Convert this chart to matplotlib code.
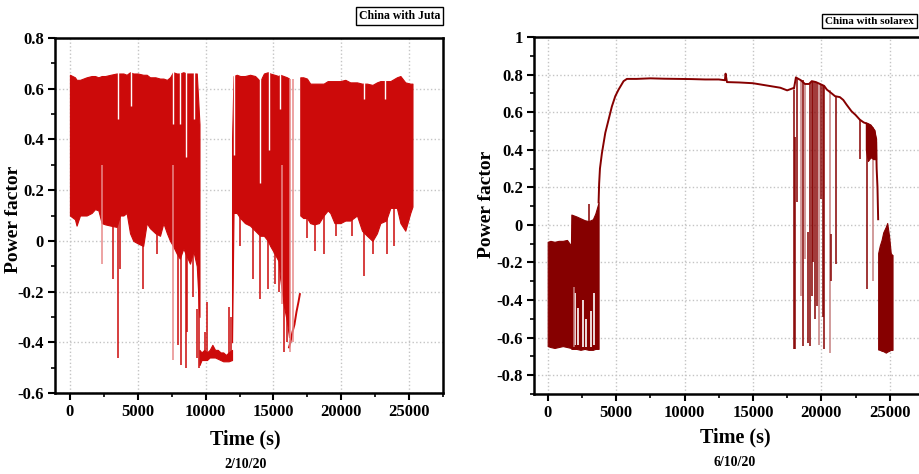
import matplotlib
matplotlib.use('Agg')
import matplotlib.pyplot as plt
from matplotlib.ticker import MultipleLocator

plt.rcParams['font.family'] = ['Liberation Serif', 'DejaVu Serif']
plt.rcParams['font.weight'] = 'bold'
plt.rcParams['axes.unicode_minus'] = False

# ---------------- Left panel: China with Juta (2/10/20) ----------------
# dense oscillation band 1
j1_t = [0, 370, 490, 740, 1230, 1600, 1850, 2100, 2340, 2600, 3000, 3440, 3690, 3940, 4180,
        4430, 4670, 5000, 5400, 5660, 5900, 6300, 6640, 6890, 7150, 7380, 7600, 7870, 8100,
        8360, 8600, 8850, 9100, 9350, 9550]
j1_hi = [0.655, 0.645, 0.635, 0.635, 0.645, 0.65, 0.65, 0.645, 0.65, 0.65, 0.655, 0.66, 0.66,
         0.66, 0.655, 0.665, 0.66, 0.66, 0.655, 0.655, 0.645, 0.645, 0.64, 0.64, 0.635, 0.645,
         0.665, 0.66, 0.66, 0.665, 0.66, 0.66, 0.66, 0.66, 0.46]
j1_lo = [0.10, 0.085, 0.06, 0.10, 0.10, 0.11, 0.125, 0.12, 0.07, 0.065, 0.06, 0.055, 0.10, 0.10,
         0.11, 0.03, 0.0, -0.01, -0.02, 0.07, 0.05, 0.03, 0.02, 0.07, 0.03, 0.0, -0.02, -0.05,
         -0.07, -0.03, -0.06, -0.09, -0.04, -0.10, -0.30]
# low plateau
j2_t = [9550, 9700, 9900, 10100, 10300, 10500, 10700, 10900, 11100, 11300, 11500, 11700, 11950]
j2_hi = [-0.43, -0.44, -0.43, -0.44, -0.43, -0.41, -0.43, -0.43, -0.44, -0.44, -0.45, -0.44, -0.43]
j2_lo = [-0.49, -0.47, -0.47, -0.47, -0.46, -0.46, -0.46, -0.465, -0.47, -0.475, -0.475, -0.475, -0.47]
# dense band 2
j3_t = [11950, 12060, 12300, 12550, 12900, 13280, 13650, 14020, 14300, 14590, 14760, 15080,
        15380, 15500, 15750, 16000, 16150]
j3_hi = [0.40, 0.65, 0.655, 0.65, 0.65, 0.655, 0.65, 0.63, 0.66, 0.665, 0.66, 0.655, 0.65,
         0.655, 0.65, 0.645, 0.64]
j3_lo = [-0.40, 0.11, 0.11, 0.09, 0.07, 0.06, 0.04, 0.02, 0.02, 0.0, -0.02, -0.05, -0.08,
         -0.15, -0.25, -0.32, -0.38]
# recovery line
j4_t = [16150, 16250, 16400, 16550, 16700, 16850, 16950]
j4_pf = [-0.42, -0.40, -0.36, -0.33, -0.28, -0.24, -0.21]
# dense band 3
j5_t = [16980, 17200, 17470, 17710, 18000, 18350, 18700, 19000, 19190, 19500, 19930, 20300,
        20660, 21160, 21530, 21900, 22300, 22630, 22880, 23300, 23620, 24100, 24360, 24720,
        25090, 25250]
j5_hi = [0.645, 0.645, 0.64, 0.62, 0.62, 0.62, 0.62, 0.63, 0.63, 0.63, 0.63, 0.635, 0.625,
         0.625, 0.62, 0.62, 0.615, 0.625, 0.63, 0.63, 0.63, 0.645, 0.65, 0.625, 0.62, 0.62]
j5_lo = [0.10, 0.09, 0.09, 0.07, 0.065, 0.07, 0.10, 0.12, 0.11, 0.07, 0.07, 0.08, 0.08, 0.10,
         0.04, 0.02, 0.0, 0.03, 0.07, 0.08, 0.13, 0.13, 0.07, 0.04, 0.11, 0.135]
# downward spikes (dark)
jsp_t = [3200, 3570, 3690, 5360, 6400, 8000, 8170, 8560, 8660, 9100, 9500, 12550, 13530,
         14020, 14590, 15080, 15380, 15750, 16000, 17470, 18030, 18700, 19600, 20790, 21700,
         22340, 23370, 23860]
jsp_bot = [-0.15, -0.46, -0.11, -0.19, -0.05, -0.41, -0.49, -0.50, -0.36, -0.22, -0.50, -0.02,
           -0.15, -0.23, -0.19, -0.17, -0.20, -0.44, -0.40, 0.01, -0.04, -0.05, 0.02, 0.02,
           -0.14, -0.05, -0.05, -0.02]
jsp_top = 0.3
# faint spikes
jl_t = [2340, 7580, 15630, 16240, 16420]
jl_lo = [-0.09, -0.47, -0.25, -0.44, -0.40]
jl_hi = [0.30, 0.30, 0.30, 0.64, 0.64]
# upward spikes from low plateau
ju_t = [9400, 9960, 10090, 11700, 11870]
ju_top = [-0.27, -0.36, -0.24, -0.26, -0.30]
ju_bot = -0.46
# white gaps in dense bands
jw_t = [3520, 4530, 7630, 8120, 8560, 9150, 12100, 14020, 14640, 15460, 21650, 23220]
jw_top = [0.67, 0.67, 0.67, 0.67, 0.67, 0.67, 0.67, 0.67, 0.67, 0.67, 0.65, 0.65]
jw_bot = [0.48, 0.53, 0.46, 0.46, 0.33, 0.48, 0.34, 0.23, 0.36, 0.52, 0.56, 0.56]

# ---------------- Right panel: China with solarex (6/10/20) ----------------
sa_t = [0, 200, 500, 800, 1100, 1410, 1700, 1730, 2100, 2400, 2700, 2990, 3300, 3480, 3720]
sa_hi = [-0.09, -0.085, -0.09, -0.085, -0.085, -0.08, -0.11, 0.055, 0.045, 0.035, 0.025, 0.02,
         0.03, 0.06, 0.12]
sa_lo = [-0.645, -0.65, -0.655, -0.65, -0.645, -0.65, -0.655, -0.66, -0.66, -0.665, -0.66,
         -0.665, -0.665, -0.66, -0.66]
sm_t = [3720, 3760, 3820, 3960, 4210, 4450, 4690, 4940, 5180, 5545, 5790, 6500, 7500, 8500,
        9500, 10500, 11500, 12500, 12950, 13000, 13100, 14000, 15000, 16000, 17000, 17500,
        17950, 17995, 18140, 18250, 18500, 18800, 19100, 19300, 19600, 19900, 20200, 20400,
        20750, 21000, 21350, 21600, 21840, 22200, 22500, 22810, 23100, 23300, 23600, 23900,
        24000, 24040, 24100, 24150]
sm_pf = [0.12, 0.22, 0.30, 0.38, 0.49, 0.56, 0.63, 0.685, 0.72, 0.765, 0.777, 0.777, 0.78,
         0.778, 0.777, 0.776, 0.774, 0.774, 0.77, 0.805, 0.76, 0.758, 0.754, 0.742, 0.73, 0.716,
         0.728, 0.725, 0.785, 0.78, 0.77, 0.75, 0.75, 0.765, 0.76, 0.75, 0.74, 0.72, 0.70,
         0.685, 0.68, 0.665, 0.64, 0.605, 0.585, 0.56, 0.545, 0.54, 0.53, 0.50, 0.44, 0.30,
         0.20, 0.03]
sb_t = [23250, 23400, 23600, 23800, 24000]
sb_hi = [0.545, 0.54, 0.53, 0.51, 0.46]
sb_lo = [0.40, 0.34, 0.36, 0.35, 0.35]
sc_t = [24150, 24270, 24400, 24520, 24710, 24810, 24950, 25070, 25170, 25200]
sc_hi = [-0.15, -0.11, -0.08, -0.04, -0.01, 0.01, -0.06, -0.15, -0.16, -0.16]
sc_lo = [-0.663, -0.665, -0.67, -0.672, -0.68, -0.675, -0.67, -0.665, -0.665, -0.665]
# dark spikes
ssp_t = [17990, 18100, 18240, 18630, 19040, 19160, 19290, 19410, 19530, 19700, 19970, 20140,
         20210, 20670, 21060, 22810, 23350, 2990]
ssp_top = [0.72, 0.47, 0.78, 0.77, -0.04, 0.755, 0.765, 0.765, 0.76, 0.755, 0.75, 0.74, 0.74,
           -0.05, 0.685, 0.56, 0.54, 0.11]
ssp_bot = [-0.66, -0.66, 0.12, -0.645, -0.63, -0.645, -0.38, -0.20, -0.50, -0.43, 0.14, -0.49,
           -0.66, -0.30, -0.21, 0.35, -0.34, 0.02]
# faint spikes
sl_t = [18480, 18800, 19850, 20620, 23740, 1900]
sl_top = [0.77, 0.75, 0.75, 0.72, 0.52, -0.33]
sl_bot = [-0.38, -0.18, -0.64, -0.68, -0.30, -0.65]
# white gaps at bottom of first band
sw_t = [2000, 2250, 2600, 2800, 3150, 3420]
sw_top = [-0.36, -0.44, -0.40, -0.50, -0.46, -0.36]
sw_bot = [-0.64, -0.64, -0.65, -0.65, -0.65, -0.64]

RED = '#cc0a0a'
RED_L = '#e88a8a'
DRED = '#860000'
DRED_L = '#c58080'

fig = plt.figure(figsize=(9.19, 4.74), dpi=100)
axL = fig.add_axes([55 / 919, 81 / 474, 388 / 919, 355 / 474])
axR = fig.add_axes([534 / 919, 80 / 474, 390 / 919, 357 / 474])

# ---- left drawing
for t, hi, lo in [(j1_t, j1_hi, j1_lo), (j2_t, j2_hi, j2_lo), (j3_t, j3_hi, j3_lo),
                  (j5_t, j5_hi, j5_lo)]:
    axL.fill_between(t, lo, hi, color=RED, lw=0.8, edgecolor=RED, zorder=3)
axL.plot(j4_t, j4_pf, color=RED, lw=1.4, zorder=3)
axL.vlines(jsp_t, jsp_bot, jsp_top, color=RED, lw=1.1, zorder=3)
axL.vlines(jl_t, jl_lo, jl_hi, color=RED_L, lw=1.1, zorder=3)
axL.vlines(ju_t, ju_bot, ju_top, color=RED, lw=1.1, zorder=3)
axL.vlines(jw_t, jw_bot, jw_top, color='white', lw=1.0, zorder=4)

axL.set_xlim(-1100, 27500)
axL.set_ylim(-0.6, 0.8)
yl_ticks = [-0.6, -0.4, -0.2, 0, 0.2, 0.4, 0.6, 0.8]
yl_labels = ['-0.6', '-0.4', '-0.2', '0', '0.2', '0.4', '0.6', '0.8']
axL.set_yticks(yl_ticks, yl_labels)

# ---- right drawing
axR.fill_between(sa_t, sa_lo, sa_hi, color=DRED, lw=0.8, edgecolor=DRED, zorder=3)
axR.vlines(sw_t, sw_bot, sw_top, color='white', lw=1.2, zorder=4)
axR.vlines(sl_t, sl_bot, sl_top, color=DRED_L, lw=1.1, zorder=5)
axR.plot(sm_t, sm_pf, color=DRED, lw=1.4, zorder=5)
axR.fill_between(sb_t, sb_lo, sb_hi, color=DRED, lw=0.8, edgecolor=DRED, zorder=5)
axR.fill_between(sc_t, sc_lo, sc_hi, color=DRED, lw=0.8, edgecolor=DRED, zorder=5)
axR.vlines(ssp_t, ssp_bot, ssp_top, color=DRED, lw=1.1, zorder=5)

axR.set_xlim(-1000, 27500)
axR.set_ylim(-0.9, 1.0)
yr_ticks = [-0.8, -0.6, -0.4, -0.2, 0, 0.2, 0.4, 0.6, 0.8, 1.0]
yr_labels = ['-0.8', '-0.6', '-0.4', '-0.2', '0', '0.2', '0.4', '0.6', '0.8', '1']
axR.set_yticks(yr_ticks, yr_labels)

x_ticks = [0, 5000, 10000, 15000, 20000, 25000]
x_labels = ['0', '5000', '10000', '15000', '20000', '25000']

for ax in (axL, axR):
    ax.set_xticks(x_ticks, x_labels)
    ax.xaxis.set_minor_locator(MultipleLocator(2500))
    ax.yaxis.set_minor_locator(MultipleLocator(0.1))
    ax.tick_params(which='major', direction='out', length=5, width=1.5, labelsize=12,
                   top=False, right=False, pad=3)
    ax.tick_params(which='minor', direction='out', length=3, width=1.2, top=False, right=False)
    for s in ax.spines.values():
        s.set_linewidth(1.8)
    ax.grid(True, which='major', color='#c4c4c4', linestyle=':', lw=1.0, zorder=0)
    ax.set_axisbelow(True)
    for lab in ax.get_xticklabels() + ax.get_yticklabels():
        lab.set_fontweight('bold')
    ax.set_ylabel('Power factor', fontsize=14, fontweight='bold')
    ax.set_xlabel('Time (s)', fontsize=14.5, fontweight='bold')

axL.yaxis.set_label_coords(-0.086, 0.49)
axR.yaxis.set_label_coords(-0.1, 0.53)
axL.xaxis.set_label_coords(0.49, -0.104)
axR.xaxis.set_label_coords(0.515, -0.095)

box = dict(boxstyle='square,pad=0.25', facecolor='white', edgecolor='black', lw=1.0)
fig.text(440 / 919, 1 - 16 / 474, 'China with Juta', ha='right', va='center', fontsize=8.5,
         fontweight='bold', bbox=box)
fig.text(914 / 919, 1 - 21 / 474, 'China with solarex', ha='right', va='center', fontsize=8,
         fontweight='bold', bbox=box)

fig.text(246 / 919, 1 - 465 / 474, '2/10/20', ha='center', va='center', fontsize=10,
         fontweight='bold')
fig.text(735 / 919, 1 - 462 / 474, '6/10/20', ha='center', va='center', fontsize=10,
         fontweight='bold')

fig.savefig('out.png', dpi=100)
